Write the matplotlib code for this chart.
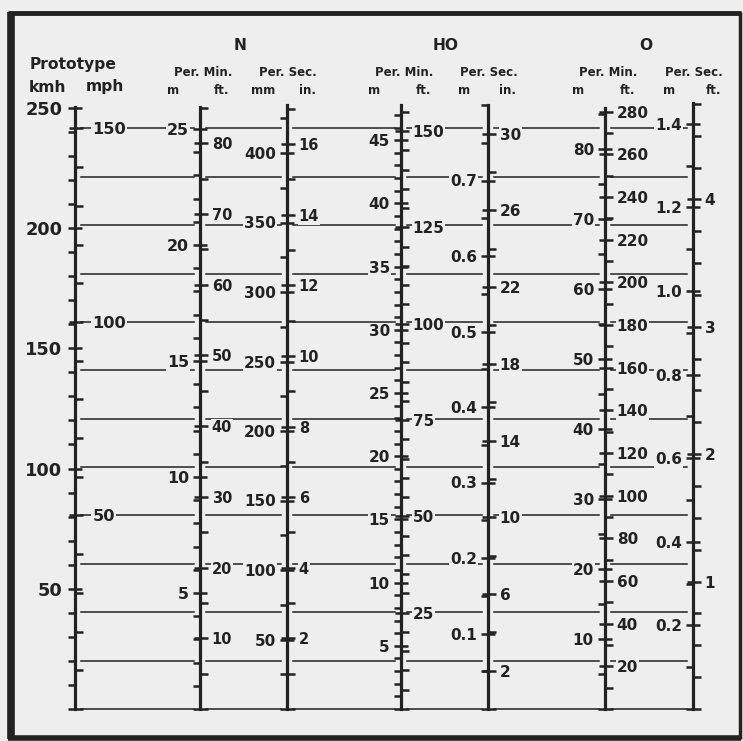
"""Scale-speed conversion nomogram: prototype speed against N, HO and O scale speeds."""

import matplotlib

matplotlib.use("Agg")  # headless

import matplotlib.pyplot as plt
from matplotlib import transforms
from matplotlib.lines import Line2D
from matplotlib.ticker import FixedLocator, MultipleLocator, StrMethodFormatter

W, H = 743, 741
INK = "#222222"
PAPER = "#eeeeee"
BASE = 709  # pixel row (from top) where every scale reads zero

KMH_TO_MPH = 1 / 1.609344
M_TO_FT = 1 / 0.3048
MM_TO_IN = 1 / 25.4

# labelled values on each scale
kmh_labels = [50, 100, 150, 200, 250]
mph_labels = [50, 100, 150]
n_min_m = [5, 10, 15, 20, 25]
n_min_ft = [10, 20, 30, 40, 50, 60, 70, 80]
n_sec_mm = [50, 100, 150, 200, 250, 300, 350, 400]
n_sec_in = [2, 4, 6, 8, 10, 12, 14, 16]
ho_min_m = [5, 10, 15, 20, 25, 30, 35, 40, 45]
ho_min_ft = [25, 50, 75, 100, 125, 150]
ho_sec_m = [0.1, 0.2, 0.3, 0.4, 0.5, 0.6, 0.7]
ho_sec_in = [2, 6, 10, 14, 18, 22, 26, 30]
o_min_m = [10, 20, 30, 40, 50, 60, 70, 80]
o_min_ft = [20, 40, 60, 80, 100, 120, 140, 160, 180, 200, 220, 240, 260, 280]
o_sec_m = [0.2, 0.4, 0.6, 0.8, 1.0, 1.2, 1.4]
o_sec_ft = [1, 2, 3, 4]

# horizontal reading lines, in prototype mph
guide_mph = [0, 12.5, 25, 37.5, 50, 62.5, 75, 87.5, 100, 112.5, 125, 137.5, 150]

fig = plt.figure(figsize=(W / 100, H / 100), dpi=100, facecolor=PAPER)


def _side(ax, labels, step, fmt, size, pad):
    ax.yaxis.set_major_locator(FixedLocator(labels))
    ax.yaxis.set_major_formatter(StrMethodFormatter(fmt))
    ax.yaxis.set_minor_locator(MultipleLocator(step))
    ax.tick_params(axis="y", which="major", direction="inout", length=10,
                   width=1.8, color=INK, labelcolor=INK, labelsize=size, pad=pad)
    ax.tick_params(axis="y", which="minor", direction="out", length=5,
                   width=1.8, color=INK)
    for tick in ax.yaxis.get_major_ticks():
        for lbl in (tick.label1, tick.label2):
            lbl.set_fontweight("bold")
            lbl.set_bbox(dict(facecolor=PAPER, edgecolor="none", pad=0.6))


def scale(x, top, ppu, conv, left, lstep, right, rstep,
          lfmt="{x:g}", rfmt="{x:g}", lsize=11, rsize=11, lpad=3, rpad=3):
    """One vertical scale: left units with ppu px/unit, right units = left * conv."""
    h = BASE - top
    ax = fig.add_axes([x / W, (H - BASE) / H, 0.6 / W, h / H])
    ax.set_ylim(0, h / ppu)
    ax.set_xticks([])
    ax.patch.set_visible(False)
    for s in ("top", "right", "bottom"):
        ax.spines[s].set_visible(False)
    ax.spines["left"].set_linewidth(2.3)
    ax.spines["left"].set_color(INK)
    _side(ax, left, lstep, lfmt, lsize, lpad)

    tw = ax.twinx()
    tw.set_ylim(0, h / ppu * conv)
    tw.patch.set_visible(False)
    for s in tw.spines.values():
        s.set_visible(False)
    _side(tw, right, rstep, rfmt, rsize, rpad)
    return ax, tw


axes_x = [75, 200, 287, 401, 488, 605, 693]

proto, proto_mph = scale(75, 107, 2.405, KMH_TO_MPH, kmh_labels, 10, mph_labels, 10,
                         lsize=12.8, rsize=11.7, lpad=4, rpad=7)
scale(200, 107, 23.2, M_TO_FT, n_min_m, 1, n_min_ft, 5, lsize=11.4, rsize=10.5)
scale(287, 105, 1.39, MM_TO_IN, n_sec_mm, 25, n_sec_in, 1, lsize=11, rsize=10.5)
scale(401, 105, 12.64, M_TO_FT, ho_min_m, 1, ho_min_ft, 5)
scale(488, 105, 755, 1000 * MM_TO_IN, ho_sec_m, 0.05, ho_sec_in, 2, lfmt="{x:.1f}")
scale(605, 108, 7.0, M_TO_FT, o_min_m, 5, o_min_ft, 10)
scale(693, 103, 418, M_TO_FT, o_sec_m, 0.1, o_sec_ft, 0.25, lfmt="{x:.1f}")

# reading lines between neighbouring scales, placed on the mph scale
trans = transforms.blended_transform_factory(fig.transFigure, proto_mph.transData)
for v in guide_mph:
    for a, b in zip(axes_x[:-1], axes_x[1:]):
        fig.add_artist(Line2D([(a + 6) / W, (b - 6) / W], [v, v], transform=trans,
                              color=INK, lw=1.1, zorder=-1))


def txt(x, y, s, size=8.5, weight="bold"):
    fig.text(x / W, 1 - y / H, s, ha="center", va="center", fontsize=size,
             fontweight=weight, color=INK)


txt(73, 64, "Prototype", 11.2)
txt(47, 87, "kmh", 11.2)
txt(105, 87, "mph", 11.2)

for name, cx in (("N", 240), ("HO", 446), ("O", 646)):
    txt(cx, 46, name, 11.2)

for (xl, xr), (left_unit, right_unit) in zip(
    [(200, 287), (401, 488), (605, 693)],
    [(("m", "ft."), ("mm", "in.")), (("m", "ft."), ("m", "in.")), (("m", "ft."), ("m", "ft."))],
):
    txt(xl + 3, 73, "Per. Min.")
    txt(xr + 1, 73, "Per. Sec.")
    txt(xl - 27, 91, left_unit[0])
    txt(xl + 22, 91, left_unit[1])
    txt(xr - 24, 91, right_unit[0])
    txt(xr + 20, 91, right_unit[1])

# frame
frame = dict(color=INK, transform=fig.transFigure, solid_capstyle="butt")
fig.add_artist(Line2D([11 / W, 11 / W], [1 - 12 / H, 1 - 739 / H], lw=5.5, **frame))
fig.add_artist(Line2D([8 / W, 741 / W], [1 - 738 / H, 1 - 738 / H], lw=4, **frame))
fig.add_artist(Line2D([740 / W, 740 / W], [1 - 12 / H, 1 - 739 / H], lw=2.5, **frame))
fig.add_artist(Line2D([8 / W, 741 / W], [1 - 13 / H, 1 - 13 / H], lw=3.5, **frame))

fig.savefig("out.png", dpi=100, facecolor=PAPER)
